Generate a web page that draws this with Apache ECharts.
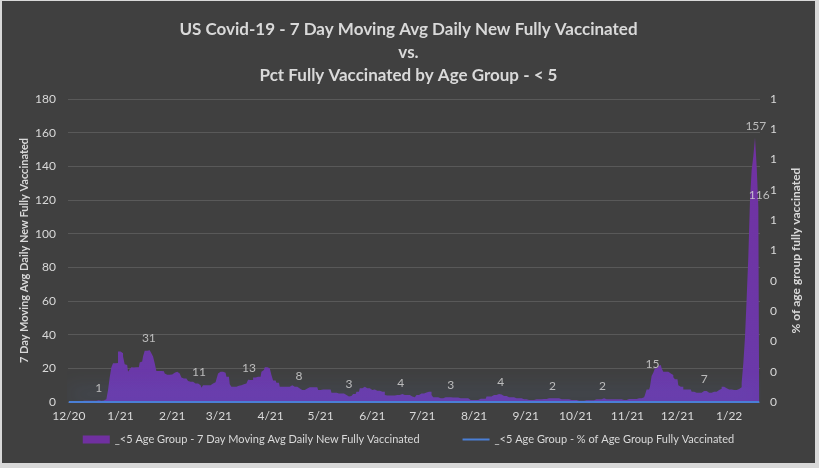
<!DOCTYPE html>
<html lang="en">
<head>
    <meta charset="UTF-8">
    <title>US Covid-19 - Under 5</title>
    <script src="https://cdn.jsdelivr.net/npm/echarts@6/dist/echarts.min.js"></script>
    <style>
        html, body { margin: 0; padding: 0; background: #d9d9d9; }
        #main { position: absolute; left: 2px; top: 1px; width: 813px; height: 462px; }
    </style>
</head>
<body>
<div id="main"></div>
<script>
    // first day on the x axis, one value per day after it
    const startDate = '2020-12-01';

    // 7 day moving avg daily new fully vaccinated, <5 age group
    const dailyNewVax = [
        0.2, 0.2, 0.2, 0.2, 0.2, 0.2, 0.3, 0.3, 0.6, 0.7,
        0.7, 0.7, 0.7, 0.7, 0.8, 0.8, 0.8, 0.8, 1.0, 0.8,
        0.8, 0.9, 1.6, 1.7, 7.0, 14.5, 20.5, 23.0, 23.0, 23.2,
        30.0, 30.0, 29.0, 27.0, 22.5, 22.0, 18.0, 19.4, 20.6, 20.5,
        20.6, 20.6, 20.6, 23.4, 24.0, 27.0, 30.5, 30.5, 30.8, 30.2,
        29.0, 27.0, 23.0, 18.4, 18.4, 18.4, 18.3, 18.2, 17.0, 16.2,
        16.2, 16.4, 16.4, 17.4, 17.4, 18.0, 17.0, 17.0, 14.5, 14.0,
        14.0, 14.0, 12.5, 12.0, 12.0, 12.0, 11.0, 11.0, 10.8, 10.0,
        8.5, 10.0, 10.0, 10.0, 10.0, 10.0, 11.0, 11.7, 11.7, 13.5,
        17.0, 18.0, 18.0, 18.0, 17.4, 15.0, 15.0, 10.5, 9.0, 9.0,
        9.0, 9.7, 9.7, 9.9, 10.5, 10.5, 11.0, 11.0, 13.2, 13.0,
        13.0, 14.5, 14.5, 15.0, 15.0, 15.0, 18.0, 19.0, 20.6, 20.6,
        20.0, 19.0, 16.0, 12.7, 12.7, 11.5, 11.5, 9.0, 9.0, 9.0,
        9.0, 9.0, 9.0, 9.0, 10.0, 9.0, 9.0, 9.0, 8.0, 7.1,
        7.1, 7.1, 7.1, 8.0, 8.7, 8.7, 8.7, 8.7, 8.7, 8.7,
        7.1, 7.1, 7.5, 7.5, 7.5, 7.5, 7.5, 7.5, 5.5, 5.5,
        5.5, 5.1, 5.1, 5.1, 5.1, 5.1, 4.2, 3.2, 3.2, 3.6,
        3.6, 4.8, 4.8, 6.1, 6.1, 8.1, 8.1, 9.1, 9.1, 8.1,
        8.1, 7.1, 7.1, 7.5, 7.5, 6.7, 6.7, 6.1, 6.1, 6.1,
        4.2, 3.8, 3.8, 3.8, 3.8, 3.8, 4.2, 4.2, 4.2, 4.3,
        4.8, 4.2, 4.2, 4.2, 4.2, 3.6, 3.2, 2.8, 2.2, 4.2,
        4.2, 5.1, 5.1, 5.1, 5.7, 5.7, 6.1, 6.1, 4.2, 2.8,
        2.8, 2.8, 2.2, 2.2, 2.2, 2.8, 2.8, 2.8, 2.8, 2.8,
        2.6, 2.6, 2.6, 2.6, 2.6, 2.2, 2.2, 2.2, 2.2, 2.2,
        2.2, 1.2, 1.2, 1.2, 1.2, 1.2, 1.2, 2.0, 2.0, 2.0,
        2.0, 3.2, 3.2, 3.2, 3.2, 4.2, 4.2, 4.2, 4.8, 4.4,
        4.8, 3.6, 3.6, 3.6, 2.8, 2.8, 2.8, 2.8, 2.2, 2.2,
        2.2, 2.2, 1.6, 1.6, 1.6, 1.6, 1.2, 1.2, 1.2, 1.2,
        1.6, 1.6, 1.6, 1.6, 1.8, 1.8, 1.8, 2.2, 2.2, 2.2,
        2.2, 2.2, 2.2, 2.2, 2.2, 1.6, 1.6, 1.6, 1.6, 1.6,
        1.6, 1.2, 1.2, 1.2, 1.2, 0.8, 0.8, 0.8, 0.8, 0.8,
        1.0, 1.0, 1.0, 1.0, 1.0, 1.0, 1.6, 1.6, 1.6, 1.6,
        2.2, 2.2, 1.6, 1.6, 1.6, 1.6, 1.6, 1.6, 1.6, 1.6,
        1.6, 1.6, 1.2, 1.2, 1.2, 1.8, 1.8, 1.8, 1.8, 1.8,
        1.8, 1.8, 2.2, 2.2, 2.8, 2.8, 4.2, 7.5, 7.5, 9.1,
        15.4, 17.4, 20.0, 20.0, 21.4, 22.0, 20.0, 18.0, 18.0, 18.0,
        17.0, 17.0, 16.0, 14.7, 13.5, 13.5, 10.0, 9.1, 9.1, 7.5,
        7.5, 7.5, 7.5, 7.5, 6.1, 6.1, 5.5, 5.5, 5.5, 5.5,
        6.1, 6.6, 6.5, 6.5, 5.5, 5.5, 6.1, 6.1, 6.1, 7.1,
        7.1, 7.9, 9.1, 9.1, 8.1, 8.1, 7.5, 7.5, 7.5, 7.1,
        7.1, 7.7, 7.7, 8.7, 11.5, 23.0, 38.4, 61.6, 86.3, 120.0,
        137.8, 146.0, 157.0, 140.0, 116.0
    ];

    // days (index into dailyNewVax) that carry a value label
    const labelDays = [18, 48, 78, 108, 138, 168, 199, 229, 259, 290, 320, 350, 381, 412, 414];

    // % of age group fully vaccinated: flat at zero on the right axis
    const pctDays = [0, 31, 59, 90, 120, 151, 181, 212, 243, 273, 304, 334, 365, 396, 414];
    const pctFullyVax = [0, 0, 0, 0, 0, 0, 0, 0, 0, 0, 0, 0, 0, 0, 0];

    const seriesNames = [
        '_<5 Age Group - 7 Day Moving Avg Daily New Fully Vaccinated',
        '_<5 Age Group - % of Age Group Fully Vaccinated'
    ];

    // dates for the category axis, M/D/YY
    let categories = [];
    let d0 = new Date(startDate + 'T00:00:00Z');
    for (let i = 0; i < dailyNewVax.length; i++) {
        let d = new Date(d0.getTime() + i * 86400000);
        categories.push((d.getUTCMonth() + 1) + '/' + d.getUTCDate() + '/' + String(d.getUTCFullYear()).slice(2));
    }

    let labelPoints = labelDays.map(function (i) { return [i, dailyNewVax[i]]; });
    let pctPoints = pctDays.map(function (i, k) { return [i, pctFullyVax[k]]; });

    const txt = '#d9d9d9';
    const font = 'Lato';

    let myChart = echarts.init(document.getElementById('main'));
    let option = {
        backgroundColor: '#404040',
        animation: false,
        textStyle: { fontFamily: font },
        title: {
            text: 'US Covid-19 - 7 Day Moving Avg Daily New Fully Vaccinated\nvs.\nPct Fully Vaccinated by Age Group - < 5',
            left: 'center',
            top: 12,
            textStyle: {
                color: txt,
                fontFamily: font,
                fontSize: 17,
                fontWeight: 'bold',
                lineHeight: 23,
                align: 'center'
            }
        },
        legend: {
            bottom: 13,
            left: 'center',
            itemGap: 42,
            itemWidth: 27,
            itemHeight: 8,
            textStyle: { color: txt, fontSize: 11, fontFamily: font },
            data: [
                { name: seriesNames[0], icon: 'rect' },
                { name: seriesNames[1], itemStyle: { opacity: 0 } }
            ]
        },
        grid: {
            left: 66,
            right: 55,
            top: 98,
            bottom: 61
        },
        xAxis: {
            type: 'category',
            data: categories,
            boundaryGap: true,
            axisLine: { show: false },
            axisTick: { show: false },
            axisLabel: {
                color: txt,
                fontSize: 12,
                margin: 8,
                interval: function (i, v) { return v.split('/')[1] === '1'; },
                formatter: function (v) {
                    let p = v.split('/');
                    return p[0] + '/' + p[2];
                }
            }
        },
        yAxis: [
            {
                type: 'value',
                min: 0,
                max: 180,
                interval: 20,
                name: '7 Day Moving Avg Daily New Fully Vaccinated',
                nameLocation: 'middle',
                nameRotate: 90,
                nameGap: 38,
                nameMoveOverlap: false,
                nameTextStyle: { color: txt, fontSize: 11, fontWeight: 'bold', fontFamily: font },
                axisLabel: { color: txt, fontSize: 12, margin: 12 },
                splitLine: { lineStyle: { color: '#595959', width: 1 } }
            },
            {
                type: 'value',
                min: 0,
                max: 1,
                interval: 0.1,
                position: 'right',
                name: '% of age group fully vaccinated',
                nameLocation: 'middle',
                nameRotate: 90,
                nameGap: 30,
                nameTextStyle: { color: txt, fontSize: 12, fontWeight: 'bold', fontFamily: font },
                axisLabel: {
                    color: txt,
                    fontSize: 12,
                    margin: 10,
                    formatter: function (v) { return Math.round(v); }
                },
                splitLine: { show: false }
            }
        ],
        series: [
            {
                name: seriesNames[0],
                type: 'line',
                step: 'middle',
                data: dailyNewVax,
                symbol: 'none',
                lineStyle: { width: 0 },
                itemStyle: { color: '#7030a0' },
                areaStyle: {
                    opacity: 1,
                    color: new echarts.graphic.LinearGradient(0, 0, 0, 1, [
                        { offset: 0, color: '#7131a1' },
                        { offset: 1, color: '#6a3aaa' }
                    ])
                },
                z: 2
            },
            {
                name: 'labels',
                type: 'scatter',
                data: labelPoints,
                symbolSize: 2,
                itemStyle: { color: 'rgba(0,0,0,0)' },
                label: {
                    show: true,
                    position: 'top',
                    distance: 5,
                    color: txt,
                    fontSize: 12,
                    fontFamily: font,
                    formatter: function (p) { return Math.round(p.value[1]); }
                },
                z: 4
            },
            {
                name: seriesNames[1],
                type: 'line',
                yAxisIndex: 1,
                data: pctPoints,
                symbol: 'none',
                itemStyle: { color: '#4a7fd6' },
                lineStyle: {
                    color: '#4a7fd6',
                    width: 2,
                    shadowColor: 'rgba(90,140,230,0.7)',
                    shadowBlur: 20,
                    shadowOffsetY: -8
                },
                z: 3
            }
        ]
    };
    myChart.setOption(option);
</script>
</body>
</html>
